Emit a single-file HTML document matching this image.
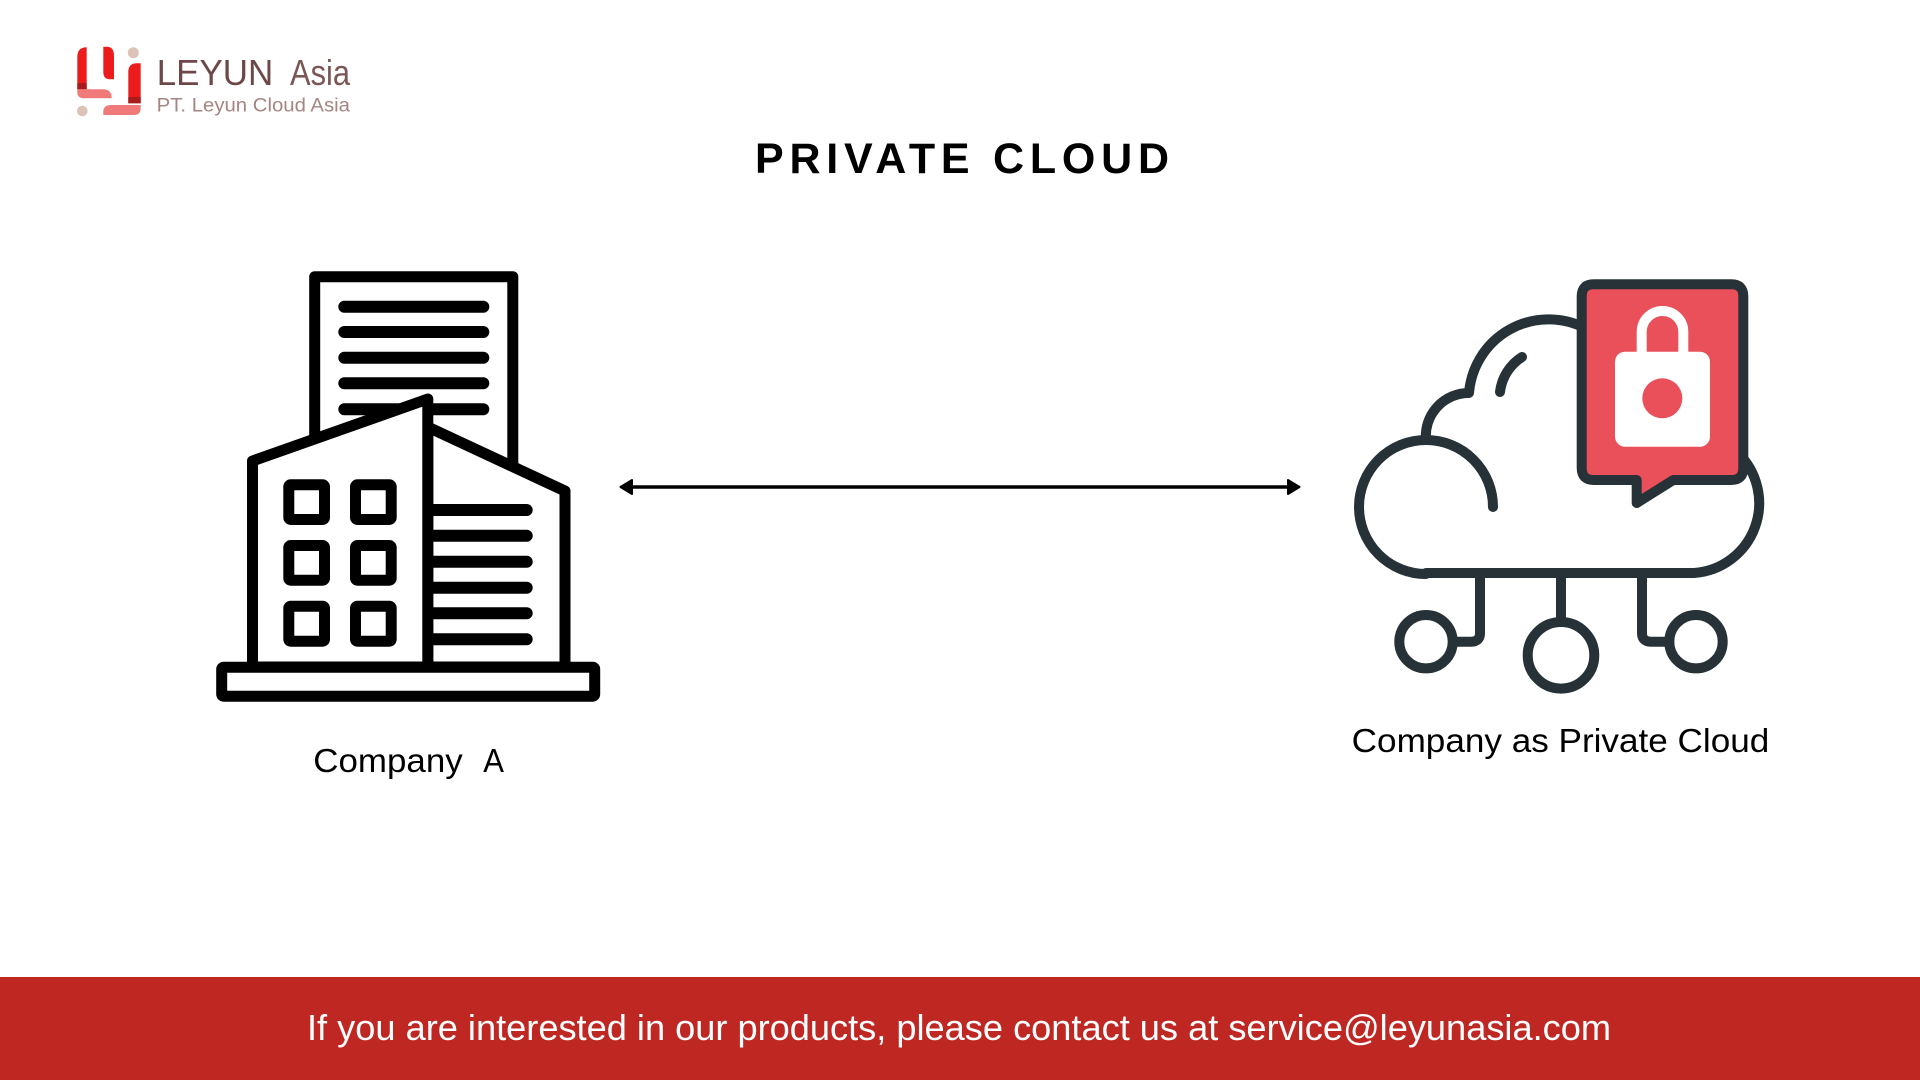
<!DOCTYPE html>
<html>
<head>
<meta charset="utf-8">
<style>
html,body{margin:0;padding:0;background:#fff;}
body{width:1920px;height:1080px;overflow:hidden;}
svg{display:block;}
text{font-family:"Liberation Sans",sans-serif;}
</style>
</head>
<body>
<svg width="1920" height="1080" viewBox="0 0 1920 1080" xmlns="http://www.w3.org/2000/svg">
  <rect x="0" y="0" width="1920" height="1080" fill="#ffffff"/>

  <!-- Logo mark -->
  <g>
    <path d="M77.3,89.3 V57 Q77.3,47.3 86.7,47.3 V89.3 Z" fill="#ED1C1C"/>
    <rect x="77.3" y="83" width="9.4" height="6.3" fill="#A81C1E"/>
    <path d="M103.3,72 V46.7 H107 Q114,46.7 114,56 V79.3 H110 Q103.3,79.3 103.3,72 Z" fill="#ED1C1C"/>
    <path d="M77.3,89.3 H103 Q111.7,89.3 111.7,98.3 H84 Q77.3,98.3 77.3,92 Z" fill="#F07A7A"/>
    <path d="M128.3,103.3 V72 Q128.3,63.3 137,63.3 H140.7 V103.3 Z" fill="#ED1C1C"/>
    <rect x="128.3" y="97" width="12.4" height="6.3" fill="#A81C1E"/>
    <path d="M103.3,115 V112 Q103.3,105 111,105 H140.7 V108 Q140.7,115 134,115 Z" fill="#F07A7A"/>
    <circle cx="133.3" cy="52.7" r="5.5" fill="#DCC3B8"/>
    <circle cx="82.3" cy="111" r="5.3" fill="#DCC3B8"/>
  </g>
  <!-- Logo text -->
  <text x="156.7" y="85" font-size="36" fill="#6E4848" textLength="116.6" lengthAdjust="spacingAndGlyphs">LEYUN</text>
  <text x="290" y="85" font-size="36" fill="#7A5655" textLength="60" lengthAdjust="spacingAndGlyphs">Asia</text>
  <text x="156.7" y="111.7" font-size="19" fill="#A48582" textLength="193.3" lengthAdjust="spacingAndGlyphs">PT. Leyun Cloud Asia</text>

  <!-- Title -->
  <text x="755" y="173" font-size="43" font-weight="bold" fill="#000" textLength="414" lengthAdjust="spacing">PRIVATE CLOUD</text>

  <!-- Building -->
  <g stroke="#000" stroke-width="11" stroke-linejoin="round" stroke-linecap="round" fill="#fff">
    <rect x="314.7" y="276.7" width="198.1" height="300"/>
    <g fill="none" stroke-width="12">
      <line x1="344.3" y1="306.7" x2="483.3" y2="306.7"/>
      <line x1="344.3" y1="332" x2="483.3" y2="332"/>
      <line x1="344.3" y1="357.7" x2="483.3" y2="357.7"/>
      <line x1="344.3" y1="383.3" x2="483.3" y2="383.3"/>
      <line x1="344.3" y1="409.3" x2="483.3" y2="409.3"/>
    </g>
    <path d="M427.8,427 L565,491 V667 H427.8 Z"/>
    <path d="M252.5,667 V461 L427.8,399 V667 Z"/>
    <rect x="288.8" y="484.8" width="35.7" height="34.7" rx="2"/>
    <rect x="355.5" y="484.8" width="35.7" height="34.7" rx="2"/>
    <rect x="288.8" y="545.5" width="35.7" height="34.7" rx="2"/>
    <rect x="355.5" y="545.5" width="35.7" height="34.7" rx="2"/>
    <rect x="288.8" y="606.2" width="35.7" height="35" rx="2"/>
    <rect x="355.5" y="606.2" width="35.7" height="35" rx="2"/>
    <g fill="none" stroke-width="12">
      <line x1="432" y1="510" x2="526.7" y2="510"/>
      <line x1="432" y1="535.7" x2="526.7" y2="535.7"/>
      <line x1="432" y1="561.7" x2="526.7" y2="561.7"/>
      <line x1="432" y1="587.7" x2="526.7" y2="587.7"/>
      <line x1="432" y1="613.3" x2="526.7" y2="613.3"/>
      <line x1="432" y1="639.3" x2="526.7" y2="639.3"/>
    </g>
    <rect x="221.7" y="667.2" width="373" height="29" rx="2"/>
  </g>

  <!-- Labels -->
  <text x="313.3" y="772" font-size="33" fill="#000" textLength="149.4" lengthAdjust="spacingAndGlyphs">Company</text>
  <text x="483.3" y="772" font-size="33" fill="#000" textLength="20.7" lengthAdjust="spacingAndGlyphs">A</text>
  <text x="1351.7" y="752" font-size="33" fill="#000" textLength="417.6" lengthAdjust="spacingAndGlyphs">Company as Private Cloud</text>

  <!-- Arrow -->
  <g fill="#000" stroke="#000" stroke-linejoin="round">
    <line x1="628" y1="487" x2="1292" y2="487" stroke-width="3.5"/>
    <polygon points="620.5,487 632,480 632,494" stroke-width="2"/>
    <polygon points="1299.5,487 1288,480 1288,494" stroke-width="2"/>
  </g>

  <!-- Cloud -->
  <g fill="none" stroke="#263238" stroke-width="10" stroke-linecap="round" stroke-linejoin="round">
    <path d="M1426,574 A67,67 0 0 1 1426,440 A67,67 0 0 1 1493,507"/>
    <path d="M1426,440 A43,43 0 0 1 1469,393 A80,80 0 0 1 1585,328"/>
    <path d="M1500,392 A48,48 0 0 1 1522,357"/>
    <path d="M1738,453 A70,70 0 0 1 1694,573"/>
    <path d="M1426,573 H1694"/>
    <path d="M1480,573 V633 Q1480,641.7 1471,641.7 H1453"/>
    <path d="M1561,573 V622"/>
    <path d="M1642,573 V633 Q1642,641.7 1651,641.7 H1669.3"/>
    <circle cx="1426" cy="641.7" r="26.7"/>
    <circle cx="1561" cy="655.3" r="33.3"/>
    <circle cx="1696" cy="641.7" r="26.7"/>
  </g>
  <!-- Bubble -->
  <path d="M1593.7,284.3 H1731.3 Q1743.3,284.3 1743.3,296.3 V468 Q1743.3,480 1731.3,480 H1673.3 L1636.7,503 V480 H1593.7 Q1581.7,480 1581.7,468 V296.3 Q1581.7,284.3 1593.7,284.3 Z" fill="#E9505A" stroke="#263238" stroke-width="10" stroke-linejoin="round"/>
  <!-- Lock -->
  <path d="M1641.7,354 V331.8 A20.8,20.8 0 0 1 1683.3,331.8 V354" fill="none" stroke="#fff" stroke-width="10"/>
  <rect x="1615" y="351.7" width="95" height="95" rx="10" fill="#fff"/>
  <circle cx="1662.3" cy="398.3" r="20" fill="#E9505A"/>

  <!-- Footer -->
  <rect x="0" y="977" width="1920" height="103" fill="#BF2723"/>
  <text x="307" y="1040" font-size="36" fill="#fff" textLength="1304" lengthAdjust="spacingAndGlyphs">If you are interested in our products, please contact us at service@leyunasia.com</text>
</svg>
</body>
</html>
